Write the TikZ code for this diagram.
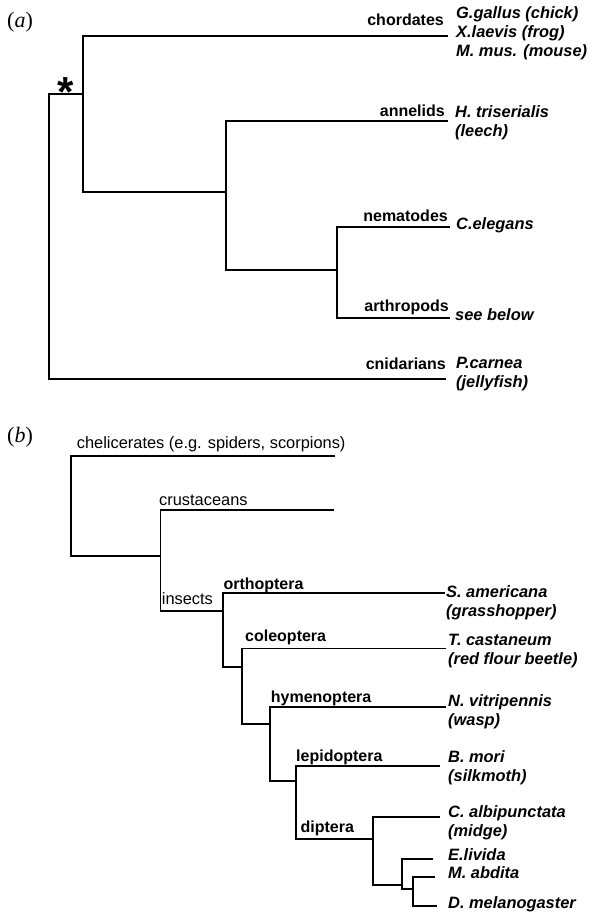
\documentclass[tikz,border=0pt]{standalone}
\usepackage{fontspec}
\setmainfont{Liberation Sans}
\newfontfamily\panelfont{Liberation Serif}
\newcommand\labelsize{\fontsize{16}{18.9}\selectfont}
\newcommand\taxonsize{\fontsize{16.4}{18.9}\selectfont}
\tikzset{
  branch/.style={line width=2pt, line join=miter},
  thinbranch/.style={line width=1.7pt, line join=miter},
  grp/.style={font=\labelsize\bfseries, inner sep=0pt},
  grpthin/.style={font=\fontsize{16.4}{18.9}\selectfont, inner sep=0pt},
  taxon/.style={font=\taxonsize\bfseries\itshape, align=left, inner sep=0pt},
  panel/.style={font=\fontsize{22}{24}\selectfont\panelfont, inner sep=0pt},
  starmark/.style={font=\fontsize{42}{42}\selectfont\bfseries, inner sep=0pt}
}
\begin{document}
\begin{tikzpicture}[x=1pt,y=-1pt]
  \useasboundingbox (0,0) rectangle (596,913);

  % (a) tree
  \node[panel, anchor=base west] (pa) at (7,27) {(\textit{a})};
  \coordinate (ar) at (49.4,94.3);
  \coordinate (a1) at (82.5,94.3);
  \coordinate (a2) at (225.5,192);
  \coordinate (a3) at (337,270);
  \coordinate (tchord) at (448,35.7);
  \coordinate (tann) at (448,121);
  \coordinate (tnem) at (450,226.7);
  \coordinate (tarth) at (450,317.7);
  \coordinate (tcnid) at (446,379);
  \draw[branch] (a1) -- (ar) |- (tcnid);
  \draw[branch] (tchord) -| (a1) |- (a2);
  \draw[branch] (tann) -| (a2) |- (a3);
  \draw[branch] (tnem) -| (a3) |- (tarth);
  \node[starmark, anchor=base] (star) at (66,106) {*};

  % multi-line names sit on the baseline of their last line
  \node[grp, anchor=base east] (lchord) at (444,25.7) {chordates};
  \node[taxon, anchor=base west] (schord) at (456,56.7) {G.gallus (chick)\\X.laevis (frog)\\M. mus. (mouse)};
  \node[grp, anchor=base east] (lann) at (445,116) {annelids};
  \node[taxon, anchor=base west] (sann) at (455,136.3) {H. triserialis\\(leech)};
  \node[grp, anchor=base east] (lnem) at (448,221) {nematodes};
  \node[taxon, anchor=base west] (snem) at (456,229) {C.elegans};
  \node[grp, anchor=base east] (larth) at (449,311) {arthropods};
  \node[taxon, anchor=base west] (sarth) at (455,320) {see below};
  \node[grp, anchor=base east] (lcnid) at (446,369) {cnidarians};
  \node[taxon, anchor=base west] (scnid) at (456,387.3) {P.carnea\\(jellyfish)};

  % (b) arthropods
  \node[panel, anchor=base west] (pb) at (7,442) {(\textit{b})};
  \coordinate (br) at (71,455.7);
  \coordinate (b1) at (160.5,555.7);
  \coordinate (b2) at (223.3,610.7);
  \coordinate (b3) at (242.3,667);
  \coordinate (b4) at (270,724);
  \coordinate (b5) at (295.8,781);
  \coordinate (b6) at (373,838.7);
  \coordinate (b7) at (401.7,885);
  \coordinate (b8) at (413,889);
  \coordinate (tcheli) at (335,455.7);
  \coordinate (tcrus) at (334,510);
  \coordinate (torth) at (445,592.7);
  \coordinate (tcoleo) at (445.6,648.5);
  \coordinate (thym) at (445.6,706.7);
  \coordinate (tlep) at (440,765.7);
  \coordinate (tchir) at (440,817);
  \coordinate (teliv) at (433,859);
  \coordinate (tmabd) at (435,876.7);
  \coordinate (tdmel) at (437,905.7);
  \draw[thinbranch] (tcheli) -- (br) |- (b1);
  \draw[thinbranch] (tcrus) -| (b1) |- (b2);
  \draw[thinbranch] (torth) -| (b2) |- (b3);
  \draw[thinbranch] (tcoleo) -| (b3) |- (b4);
  \draw[thinbranch] (thym) -| (b4) |- (b5);
  \draw[thinbranch] (tlep) -| (b5) |- (b6);
  \draw[thinbranch] (tchir) -| (b6) |- (b7);
  \draw[thinbranch] (teliv) -| (b7) |- (b8);
  \draw[thinbranch] (tmabd) -| (b8) |- (tdmel);

  \node[grpthin, anchor=base west] (lcheli) at (76.7,448) {chelicerates (e.g. spiders, scorpions)};
  \node[grpthin, anchor=base west] (lcrus) at (159,505.5) {crustaceans};
  \node[grpthin, anchor=base west] (lins) at (161.7,604) {insects};
  \node[grp, anchor=base west] (lorth) at (223.3,589) {orthoptera};
  \node[taxon, anchor=base west] (sorth) at (446,616.5) {S. americana\\(grasshopper)};
  \node[grp, anchor=base west] (lcoleo) at (245,641.5) {coleoptera};
  \node[taxon, anchor=base west] (scoleo) at (448,664.5) {T. castaneum\\(red flour beetle)};
  \node[grp, anchor=base west] (lhym) at (270.7,702.5) {hymenoptera};
  \node[taxon, anchor=base west] (shym) at (448,725.5) {N. vitripennis\\(wasp)};
  \node[grp, anchor=base west] (llep) at (296,761.5) {lepidoptera};
  \node[taxon, anchor=base west] (slep) at (448,781.5) {B. mori\\(silkmoth)};
  \node[grp, anchor=base west] (ldip) at (300.4,832.5) {diptera};
  \node[taxon, anchor=base west] (schir) at (448,836) {C. albipunctata\\(midge)};
  \node[taxon, anchor=base west] (seliv) at (448,860) {E.livida};
  \node[taxon, anchor=base west] (smabd) at (448,878.5) {M. abdita};
  \node[taxon, anchor=base west] (sdmel) at (448,908) {D. melanogaster};
\end{tikzpicture}
\end{document}
